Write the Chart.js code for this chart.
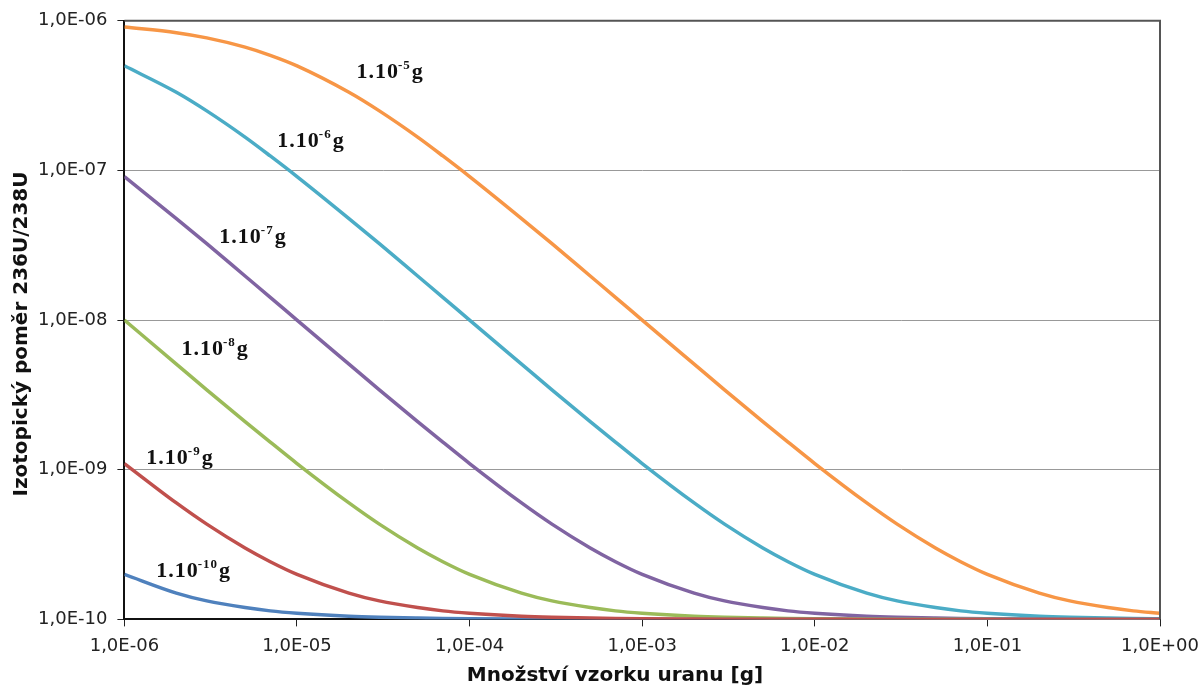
<!DOCTYPE html>
<html>
<head>
<meta charset="utf-8">
<script src="https://cdn.jsdelivr.net/npm/chart.js@4"></script>
<style>
body { margin: 0; background: #fff; }
</style>
</head>
<body>
<canvas id="grafica" width="1202" height="691"></canvas>
<script>
// mnozstvi vzorku [g]
var mnozstvi = [1e-6, 2e-6, 3e-6, 5e-6, 7e-6,
    1e-5, 2e-5, 3e-5, 5e-5, 7e-5,
    1e-4, 2e-4, 3e-4, 5e-4, 7e-4,
    1e-3, 2e-3, 3e-3, 5e-3, 7e-3,
    1e-2, 2e-2, 3e-2, 5e-2, 7e-2,
    1e-1, 2e-1, 3e-1, 5e-1, 7e-1,
    1];

var kont5 = [9.09e-7, 8.33e-7, 7.69e-7, 6.67e-7, 5.88e-7,
    5.0e-7, 3.33e-7, 2.5e-7, 1.67e-7, 1.25e-7,
    9.1e-8, 4.77e-8, 3.24e-8, 1.97e-8, 1.42e-8,
    1.0e-8, 5.08e-9, 3.42e-9, 2.1e-9, 1.53e-9,
    1.1e-9, 6.0e-10, 4.33e-10, 3.0e-10, 2.43e-10,
    2.0e-10, 1.5e-10, 1.33e-10, 1.2e-10, 1.14e-10,
    1.1e-10];
var kont6 = [5.0e-7, 3.33e-7, 2.5e-7, 1.67e-7, 1.25e-7,
    9.1e-8, 4.77e-8, 3.24e-8, 1.97e-8, 1.42e-8,
    1.0e-8, 5.08e-9, 3.42e-9, 2.1e-9, 1.53e-9,
    1.1e-9, 6.0e-10, 4.33e-10, 3.0e-10, 2.43e-10,
    2.0e-10, 1.5e-10, 1.33e-10, 1.2e-10, 1.14e-10,
    1.1e-10, 1.05e-10, 1.033e-10, 1.02e-10, 1.014e-10,
    1.01e-10];
var kont7 = [9.1e-8, 4.77e-8, 3.24e-8, 1.97e-8, 1.42e-8,
    1.0e-8, 5.08e-9, 3.42e-9, 2.1e-9, 1.53e-9,
    1.1e-9, 6.0e-10, 4.33e-10, 3.0e-10, 2.43e-10,
    2.0e-10, 1.5e-10, 1.33e-10, 1.2e-10, 1.14e-10,
    1.1e-10, 1.05e-10, 1.033e-10, 1.02e-10, 1.014e-10,
    1.01e-10, 1.005e-10, 1.003e-10, 1.002e-10, 1.001e-10,
    1.001e-10];
var kont8 = [1.0e-8, 5.08e-9, 3.42e-9, 2.1e-9, 1.53e-9,
    1.1e-9, 6.0e-10, 4.33e-10, 3.0e-10, 2.43e-10,
    2.0e-10, 1.5e-10, 1.33e-10, 1.2e-10, 1.14e-10,
    1.1e-10, 1.05e-10, 1.033e-10, 1.02e-10, 1.014e-10,
    1.01e-10, 1.005e-10, 1.003e-10, 1.002e-10, 1.001e-10,
    1.001e-10, 1.0e-10, 1.0e-10, 1.0e-10, 1.0e-10,
    1.0e-10];
var kont9 = [1.1e-9, 6.0e-10, 4.33e-10, 3.0e-10, 2.43e-10,
    2.0e-10, 1.5e-10, 1.33e-10, 1.2e-10, 1.14e-10,
    1.1e-10, 1.05e-10, 1.033e-10, 1.02e-10, 1.014e-10,
    1.01e-10, 1.005e-10, 1.003e-10, 1.002e-10, 1.001e-10,
    1.001e-10, 1.0e-10, 1.0e-10, 1.0e-10, 1.0e-10,
    1.0e-10, 1.0e-10, 1.0e-10, 1.0e-10, 1.0e-10,
    1.0e-10];
var kont10 = [2.0e-10, 1.5e-10, 1.33e-10, 1.2e-10, 1.14e-10,
    1.1e-10, 1.05e-10, 1.033e-10, 1.02e-10, 1.014e-10,
    1.01e-10, 1.005e-10, 1.003e-10, 1.002e-10, 1.001e-10,
    1.001e-10, 1.0e-10, 1.0e-10, 1.0e-10, 1.0e-10,
    1.0e-10, 1.0e-10, 1.0e-10, 1.0e-10, 1.0e-10,
    1.0e-10, 1.0e-10, 1.0e-10, 1.0e-10, 1.0e-10,
    1.0e-10];

var ticksX = [1e-6, 1e-5, 1e-4, 1e-3, 1e-2, 1e-1, 1];
var ticksY = [1e-10, 1e-9, 1e-8, 1e-7, 1e-6];

// popisky krivek: exponent a poloha v datech
var popisExp = ["-5", "-6", "-7", "-8", "-9", "-10"];
var popisX = [2.21e-5, 7.69e-6, 3.55e-6, 2.14e-6, 1.34e-6, 1.53e-6];
var popisY = [4.16e-7, 1.44e-7, 3.27e-8, 5.83e-9, 1.10e-9, 1.91e-10];

var barvy = ["#F79646", "#4BACC6", "#8064A2", "#9BBB59", "#C0504D", "#4F81BD"];

function body(hodnoty) {
    return mnozstvi.map(function (x, i) {
        return { x: x, y: hodnoty[i] };
    });
}

function formatE(v) {
    var e = Math.round(Math.log10(v));
    var s = e < 0 ? "-" : "+";
    var a = Math.abs(e);
    return "1,0E" + s + (a < 10 ? "0" + a : a);
}

function serie(hodnoty, barva, poradi) {
    return {
        data: body(hodnoty),
        borderColor: barva,
        backgroundColor: barva,
        borderWidth: 3.5,
        pointRadius: 0,
        cubicInterpolationMode: 'monotone',
        order: poradi
    };
}

var doplnky = {
    id: 'doplnky',
    afterDraw: function (chart) {
        var ctx = chart.ctx;
        var a = chart.chartArea;
        var sx = chart.scales.x;
        var sy = chart.scales.y;
        ctx.save();
        // ramecek nahore a vpravo
        ctx.strokeStyle = "#555";
        ctx.lineWidth = 2;
        ctx.beginPath();
        ctx.moveTo(a.left, a.top);
        ctx.lineTo(a.right, a.top);
        ctx.lineTo(a.right, a.bottom);
        ctx.stroke();

        // popisky krivek
        ctx.fillStyle = "#111";
        ctx.textBaseline = "alphabetic";
        ctx.textAlign = "left";
        ctx.letterSpacing = "1px";
        for (var i = 0; i < popisExp.length; i++) {
            var px = sx.getPixelForValue(popisX[i]);
            var py = sy.getPixelForValue(popisY[i]);
            ctx.font = "bold 22px 'Liberation Serif'";
            ctx.fillText("1.10", px, py);
            px += ctx.measureText("1.10").width;
            ctx.font = "bold 13px 'Liberation Serif'";
            ctx.fillText(popisExp[i], px - 1, py - 9);
            px += ctx.measureText(popisExp[i]).width;
            ctx.font = "bold 22px 'Liberation Serif'";
            ctx.fillText("g", px, py);
        }
        ctx.letterSpacing = "0px";

        // nazvy os
        ctx.fillStyle = "#111";
        ctx.font = "bold 20px 'DejaVu Sans'";
        ctx.textAlign = "center";
        ctx.textBaseline = "middle";
        ctx.fillText("Množství vzorku uranu [g]", 615, 676);
        ctx.translate(22, 334);
        ctx.rotate(-Math.PI / 2);
        ctx.fillText("Izotopický poměr 236U/238U", 0, 0);
        ctx.restore();
    }
};

var ctxG = document.getElementById("grafica").getContext('2d');
var graf = new Chart(ctxG, {
    type: 'line',
    data: {
        datasets: [
            serie(kont5, barvy[0], 6),
            serie(kont6, barvy[1], 5),
            serie(kont7, barvy[2], 4),
            serie(kont8, barvy[3], 3),
            serie(kont10, barvy[5], 2),
            serie(kont9, barvy[4], 1)
        ]
    },
    options: {
        responsive: false,
        animation: false,
        layout: {
            padding: { left: 28, right: 42, top: 17, bottom: 25 }
        },
        plugins: {
            legend: { display: false },
            tooltip: { enabled: false }
        },
        scales: {
            x: {
                type: 'logarithmic',
                min: 1e-6,
                max: 1,
                afterBuildTicks: function (scale) {
                    scale.ticks = ticksX.map(function (v) { return { value: v }; });
                },
                afterFit: function (scale) {
                    scale.paddingLeft = 0;
                    scale.paddingRight = 0;
                },
                ticks: {
                    autoSkip: false,
                    maxRotation: 0,
                    padding: 9,
                    color: "#222",
                    font: { family: "'DejaVu Sans'", size: 18 },
                    callback: function (v) { return formatE(v); }
                },
                grid: {
                    drawOnChartArea: false,
                    drawTicks: true,
                    tickLength: 7,
                    color: "#222"
                },
                border: { color: "#111", width: 2 }
            },
            y: {
                type: 'logarithmic',
                min: 1e-10,
                max: 1e-6,
                afterBuildTicks: function (scale) {
                    scale.ticks = ticksY.map(function (v) { return { value: v }; });
                },
                ticks: {
                    autoSkip: false,
                    padding: 10,
                    color: "#222",
                    font: { family: "'DejaVu Sans'", size: 18 },
                    callback: function (v) { return formatE(v); }
                },
                grid: {
                    color: "#999",
                    lineWidth: 1,
                    tickLength: 7,
                    tickColor: "#222"
                },
                border: { color: "#111", width: 2 }
            }
        }
    },
    plugins: [doplnky]
});
</script>
</body>
</html>
